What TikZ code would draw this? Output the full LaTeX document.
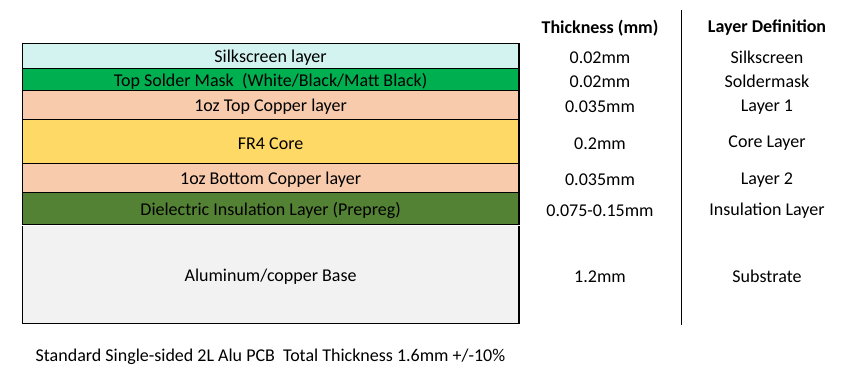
\documentclass[tikz,border=0pt]{standalone}
\usepackage{fontspec}
\setmainfont{Carlito}
\definecolor{silkcol}{HTML}{D3F3F1}
\definecolor{maskcol}{HTML}{00B050}
\definecolor{coppercol}{HTML}{F8CBAD}
\definecolor{corecol}{HTML}{FFD966}
\definecolor{dielcol}{HTML}{548235}
\definecolor{basecol}{HTML}{F2F2F2}

\begin{document}
\begin{tikzpicture}[x=1pt,y=-1pt,font=\fontsize{18}{21}\selectfont,
  layer/.style={draw=black,line width=1.3pt},
  every node/.style={yshift=-2pt}]
  \useasboundingbox (0,0) rectangle (849,389);

  \node[font=\fontsize{18}{21}\selectfont\bfseries] (headthick) at (600,26) {Thickness (mm)};  %Kopf Dicke
  \node[font=\fontsize{18}{21}\selectfont\bfseries] (headdef) at (767,26) {Layer Definition};  %Kopf Definition

  \foreach \yt/\yb/\col/\txt/\thick/\ldef/\nm in {43.3/68.3/silkcol/Silkscreen layer/0.02mm/Silkscreen/silk,
      68.3/90.3/maskcol/{Top Solder Mask~ (White/Black/Matt Black)}/0.02mm/Soldermask/mask,
      90.3/119.3/coppercol/1oz Top Copper layer/0.035mm/Layer 1/topcu,
      119.3/163.3/corecol/FR4 Core/0.2mm/Core Layer/core,
      163.3/192.3/coppercol/1oz Bottom Copper layer/0.035mm/Layer 2/botcu,
      192.3/224.3/dielcol/Dielectric Insulation Layer (Prepreg)/0.075-0.15mm/Insulation Layer/diel}
  {
    \draw[layer,fill=\col] (22.3,\yt) rectangle (519,\yb);  %die Schichten
    \node (\nm) at (270.6,{(\yt+\yb)/2}) {\txt};  %Schichtname
    \node (\nm thick) at (600,{(\yt+\yb)/2}) {\thick};  %Dicke
    \node (\nm def) at (767,{(\yt+\yb)/2}) {\ldef};  %Definition
  };

  % Grundplatte, oben ohne Rand
  \fill[basecol] (22.3,226) rectangle (519,323.3);
  \draw[layer] (22.3,226) -- (22.3,323.3) -- (519,323.3) -- (519,226);
  \node (base) at (270.6,274.6) {Aluminum/copper Base};
  \node (base thick) at (600,274.6) {1.2mm};
  \node (base def) at (767,274.6) {Substrate};

  \coordinate (divtop) at (681.7,8.3);
  \coordinate (divbot) at (681.7,323.3);
  \draw[line width=1.3pt] (divtop) -- (divbot);  %Trennlinie

  \node (total) at (270.5,355) {Standard Single-sided 2L Alu PCB~ Total Thickness 1.6mm +/-10\%};  %Fusszeile
\end{tikzpicture}
\end{document}
